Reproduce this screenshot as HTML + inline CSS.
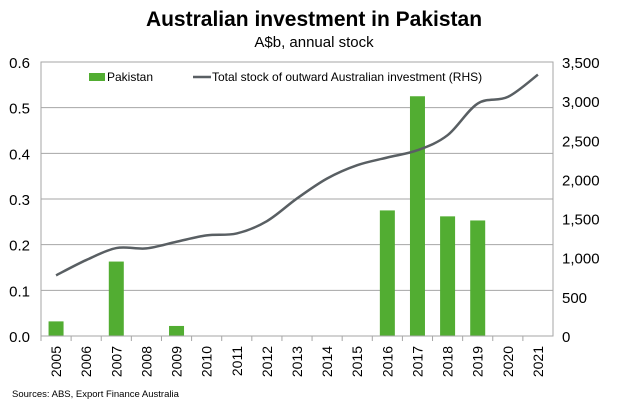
<!DOCTYPE html>
<html><head><meta charset="utf-8"><style>
body{margin:0;background:#fff;}
svg text{font-family:"Liberation Sans",Arial,sans-serif;}
</style></head><body>
<svg width="629" height="413" viewBox="0 0 629 413" xmlns="http://www.w3.org/2000/svg">
<text x="314" y="26" text-anchor="middle" font-size="21" font-weight="bold" fill="#000">Australian investment in Pakistan</text>
<text x="314" y="47" text-anchor="middle" font-size="15" fill="#000">A$b, annual stock</text>
<g id="grid"></g>
<g id="bars"></g>
<path id="line" fill="none" stroke="#595f63" stroke-width="2.5"/>
<rect x="41" y="62" width="512" height="274" fill="none" stroke="#a6a6a6" stroke-width="1"/>
<g id="axes"></g>
<g>
<rect x="89" y="73" width="16" height="8" fill="#52ad32"/>
<text x="107" y="81" font-size="12">Pakistan</text>
<line x1="193" y1="77" x2="211" y2="77" stroke="#595f63" stroke-width="2.5"/>
<text x="212" y="81" font-size="12">Total stock of outward Australian investment (RHS)</text>
</g>
<text x="12" y="397" font-size="9.5" fill="#000">Sources: ABS, Export Finance Australia</text>
</svg>
<script>
const years=["2005","2006","2007","2008","2009","2010","2011","2012","2013","2014","2015","2016","2017","2018","2019","2020","2021"];
const pakistan=[0.032,0,0.163,0,0.022,0,0,0,0,0,0,0.275,0.525,0.262,0.253,0,0];
const totalStock=[775,970,1123,1119,1204,1285,1310,1467,1757,2012,2182,2280,2373,2565,2969,3054,3339];
const leftTicks=["0.0","0.1","0.2","0.3","0.4","0.5","0.6"];
const rightTicks=["0","500","1,000","1,500","2,000","2,500","3,000","3,500"];
const NS="http://www.w3.org/2000/svg";
const L=41,R=553,T=62,B=336;
const bw=(R-L)/years.length;
const xC=i=>L+bw*(i+0.5);
const yL=v=>B-(v/0.6)*(B-T);
const yR=v=>B-(v/3500)*(B-T);
function mk(tag,attrs,parent){const e=document.createElementNS(NS,tag);for(const k in attrs)e.setAttribute(k,attrs[k]);parent.appendChild(e);return e;}
const grid=document.getElementById('grid'),axes=document.getElementById('axes'),bars=document.getElementById('bars');
leftTicks.forEach((t,i)=>{const v=i*0.1;const y=yL(v);
 if(i>0&&i<leftTicks.length-1){const g=mk('line',{x1:L,x2:R,y1:y,y2:y,stroke:'#a6a6a6','stroke-width':1},grid);
 
 }
 const tx=mk('text',{x:30,y:y+6,'text-anchor':'end','font-size':15},axes);tx.textContent=t;
 
 });
rightTicks.forEach((t,i)=>{const y=yR(i*500);
 const tx=mk('text',{x:562,y:y+6,'font-size':15},axes);tx.textContent=t;
 
 });
years.forEach((yr,i)=>{
 const tk=mk('line',{x1:L+bw*i,x2:L+bw*i,y1:B,y2:B+5,stroke:'#a6a6a6'},axes);
 
 
 const x=xC(i);
 const tx=mk('text',{x:x+5,y:B+10,'text-anchor':'end','font-size':14,transform:`rotate(-90 ${x+5} ${B+10})`},axes);tx.textContent=yr;
 
 
 if(pakistan[i]>0){const w=15;const r=mk('rect',{x:x-w/2,y:yL(pakistan[i]),width:w,height:B-yL(pakistan[i]),fill:'#52ad32'},bars);
 
 }
});
const pts=totalStock.map((v,i)=>[xC(i),yR(v)]);
let d=`M${pts[0][0]},${pts[0][1]}`;
for(let i=0;i<pts.length-1;i++){const p0=pts[Math.max(0,i-1)],p1=pts[i],p2=pts[i+1],p3=pts[Math.min(pts.length-1,i+2)];
 const c1=[p1[0]+(p2[0]-p0[0])/6,p1[1]+(p2[1]-p0[1])/6],c2=[p2[0]-(p3[0]-p1[0])/6,p2[1]-(p3[1]-p1[1])/6];
 d+=` C${c1[0]},${c1[1]} ${c2[0]},${c2[1]} ${p2[0]},${p2[1]}`;}
document.getElementById('line').setAttribute('d',d);
</script>
</body></html>
